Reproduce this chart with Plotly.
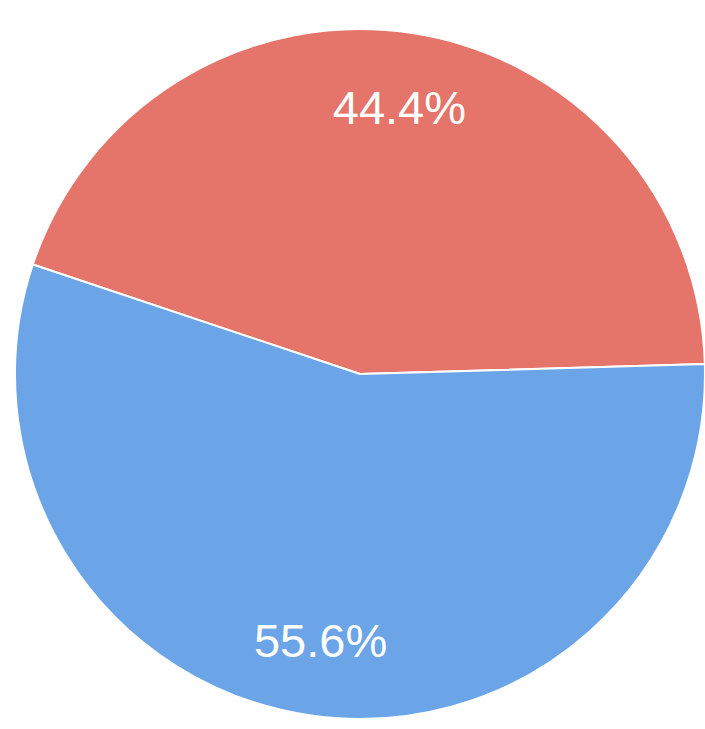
import plotly.graph_objects as go

labels = ["A", "B"]
values = [44.4, 55.6]
colors = ["#e5756a", "#6ba5e8"]

# Base pie: the coloured slices
fig = go.Figure(go.Pie(
    labels=labels,
    values=values,
    sort=False,
    direction="clockwise",
    rotation=-71.5,
    marker=dict(colors=colors, line=dict(color="white", width=2)),
    textinfo="none",
    showlegend=False,
    hoverinfo="skip",
))
# Transparent ring on top carries the percentage labels further out
fig.add_trace(go.Pie(
    labels=labels,
    values=values,
    sort=False,
    direction="clockwise",
    rotation=-71.5,
    hole=0.56,
    marker=dict(colors=["rgba(0,0,0,0)"] * len(values), line=dict(width=0)),
    textinfo="percent",
    texttemplate="%{percent:.1%}",
    textposition="inside",
    insidetextorientation="horizontal",
    insidetextfont=dict(color="white", size=47, family="Liberation Sans"),
    showlegend=False,
    hoverinfo="skip",
))
fig.update_layout(
    width=705, height=729,
    margin=dict(l=15, r=0, t=29, b=10),
    paper_bgcolor="white",
    plot_bgcolor="white",
)
fig.write_html("out.html", config={"displayModeBar": False},
               post_script="document.body.style.margin='0';")
